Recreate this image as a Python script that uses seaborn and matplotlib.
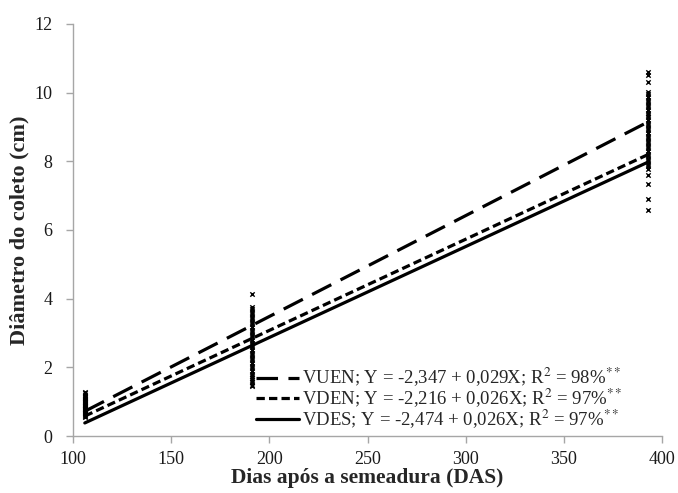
import matplotlib
matplotlib.use("Agg")
import matplotlib.pyplot as plt
import seaborn as sns
import pandas as pd
import numpy as np

# ---- data ----
x_days = [106, 191, 393]
pts_106 = [0.55, 0.58, 0.62, 0.65, 0.68, 0.70, 0.72, 0.75, 0.78, 0.80, 0.83, 0.85, 0.88,
           0.90, 0.93, 0.95, 0.98, 1.00, 1.03, 1.05, 1.08, 1.10, 1.13, 1.16, 1.20, 1.24, 1.28]
pts_191 = [1.45, 1.50, 1.56, 1.62, 1.68, 1.75, 1.82, 1.90, 1.98, 2.05, 2.12, 2.20, 2.28,
           2.35, 2.42, 2.50, 2.58, 2.65, 2.72, 2.80, 2.88, 2.95, 3.02, 3.10, 3.18, 3.25,
           3.32, 3.40, 3.48, 3.55, 3.62, 3.70, 3.76, 4.15]
pts_393 = [6.57, 6.90, 7.35, 7.60, 7.78, 7.85, 7.92, 8.00, 8.08, 8.15, 8.22, 8.30, 8.38,
           8.45, 8.52, 8.60, 8.68, 8.75, 8.82, 8.90, 8.98, 9.05, 9.12, 9.20, 9.28, 9.35,
           9.42, 9.50, 9.58, 9.65, 9.72, 9.80, 9.88, 9.95, 10.02, 10.30, 10.50, 10.60]

line_x = [106, 393]
vuen_y = [0.72, 9.15]
vden_y = [0.58, 8.20]
vdes_y = [0.38, 7.98]

labels = [
    r"VUEN; Y = -2,347 + 0,029X; R$^{2}$ = 98%$^{**}$",
    r"VDEN; Y = -2,216 + 0,026X; R$^{2}$ = 97%$^{**}$",
    r"VDES; Y = -2,474 + 0,026X; R$^{2}$ = 97%$^{**}$",
]
xticks = [100, 150, 200, 250, 300, 350, 400]
yticks = [0, 2, 4, 6, 8, 10, 12]

# ---- tables ----
scatter_df = pd.DataFrame({
    "x": [x_days[0]] * len(pts_106) + [x_days[1]] * len(pts_191) + [x_days[2]] * len(pts_393),
    "y": pts_106 + pts_191 + pts_393,
})
lines_df = pd.DataFrame({
    "x": line_x * 3,
    "y": vuen_y + vden_y + vdes_y,
    "serie": [labels[0]] * 2 + [labels[1]] * 2 + [labels[2]] * 2,
})

sns.set_theme(style="white")
plt.rcParams["font.family"] = ["Liberation Serif", "DejaVu Serif"]
plt.rcParams["mathtext.fontset"] = "stix"
plt.rcParams["lines.scale_dashes"] = False

fig = plt.figure(figsize=(6.78, 4.93), dpi=100)
ax = fig.add_axes([0.1077, 0.1156, 0.8687, 0.8358])

sns.scatterplot(data=scatter_df, x="x", y="y", marker="x", s=10, color="black",
                linewidth=1.0, ax=ax, legend=False, zorder=3)

sns.lineplot(data=lines_df, x="x", y="y", hue="serie", style="serie",
             palette=["black", "black", "black"],
             dashes={labels[0]: (15.5, 7.5), labels[1]: (6.0, 3.0), labels[2]: ""},
             linewidth=2.3, ax=ax, zorder=4)

ax.set_xlim(100, 400)
ax.set_ylim(0, 12)
ax.set_xticks(xticks)
ax.set_yticks(yticks)
ax.tick_params(axis="both", which="both", direction="out", length=5, width=1,
               color="#a6a6a6", labelsize=13, labelcolor="#1a1a1a",
               bottom=True, left=True)
ax.tick_params(axis="x", pad=6)
ax.tick_params(axis="y", pad=10)
for side in ["top", "right"]:
    ax.spines[side].set_visible(False)
for side in ["left", "bottom"]:
    ax.spines[side].set_color("#a6a6a6")
    ax.spines[side].set_linewidth(1)

ax.set_xlabel("Dias após a semeadura (DAS)", fontsize=15.5, fontweight="bold", labelpad=0)
ax.set_ylabel("Diâmetro do coleto (cm)", fontsize=16, fontweight="bold", labelpad=3)

leg = ax.legend(loc="upper left", bbox_to_anchor=(0.31, 0.17), frameon=False,
                fontsize=13.5, handlelength=2.3, handletextpad=0.15, labelspacing=-0.12,
                borderaxespad=0, borderpad=0)
for line in leg.get_lines():
    line.set_linewidth(2.3)

fig.savefig("out.png", dpi=100)
